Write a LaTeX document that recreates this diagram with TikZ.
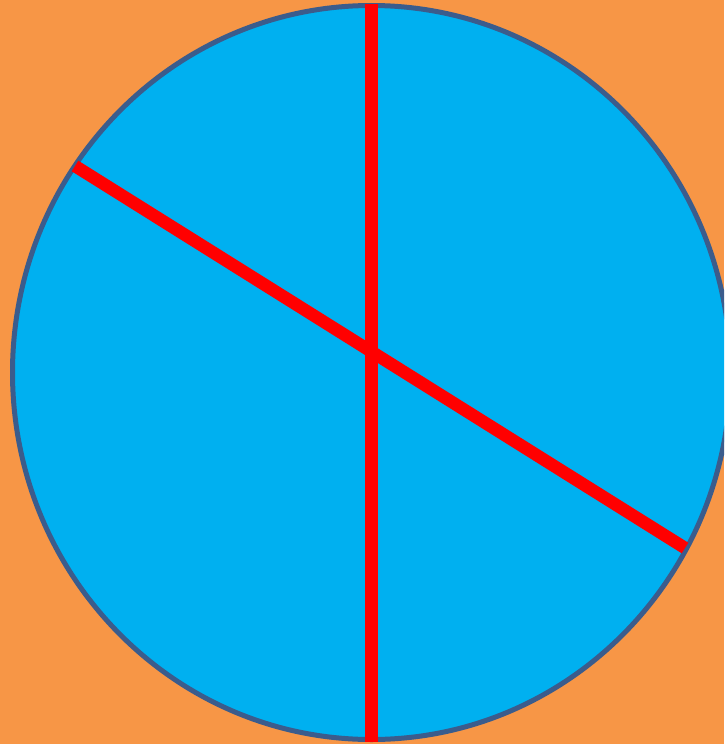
\documentclass[tikz,border=0pt]{standalone}
\usepackage{tikz}

\definecolor{bgOrange}{HTML}{F79646}
\definecolor{discBlue}{HTML}{00B0F0}
\definecolor{rimBlue}{HTML}{3B5C8C}
\definecolor{cutRed}{HTML}{FF0000}

\begin{document}
\begin{tikzpicture}[
    x=1pt, y=-1pt,
    disc/.style={fill=discBlue, draw=rimBlue, line width=5pt},
    cut/.style={draw=cutRed, line width=12.5pt},
  ]

  %% ===== BACKGROUND =====
  \fill[bgOrange] (0,0) rectangle (724,744);
  \useasboundingbox (0,0) rectangle (724,744);
  \clip (0,0) rectangle (724,744);

  %% ===== DISC =====
  \coordinate (ctr) at (371.5, 372.5);
  \draw[disc] (ctr) ellipse [x radius=359, y radius=367];

  %% ===== CUTS =====
  \coordinate (topEnd) at (371.5, 4);
  \coordinate (botEnd) at (371.5, 742);
  \coordinate (leftEnd) at (75, 166);
  \coordinate (rightEnd) at (685, 548);

  \draw[cut] (topEnd) -- (botEnd);
  \draw[cut] (leftEnd) -- (rightEnd);

\end{tikzpicture}
\end{document}
